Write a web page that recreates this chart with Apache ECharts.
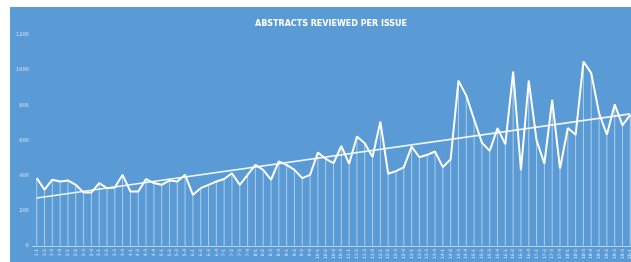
<!DOCTYPE html>
<html>
<head>
<meta charset="utf-8">
<script src="https://cdn.jsdelivr.net/npm/echarts@6/dist/echarts.min.js"></script>
<style>
html,body{margin:0;padding:0;width:631px;height:262px;overflow:hidden;background:#fff;}
#bg{position:absolute;left:10px;top:7px;width:630px;height:260px;background:#5b9bd5;}
#c{position:absolute;left:0;top:0;width:640px;height:262px;}
</style>
</head>
<body>
<div id="bg"></div>
<div id="c"></div>
<script>
var categories = ['1-1','1-2','1-3','1-4','2-1','2-2','2-3','2-4','3-1','3-2','3-3','3-4','4-1','4-2','4-3','4-4','5-1','5-2','5-3','5-4','6-1','6-2','6-3','6-4','7-1','7-2','7-3','7-4','8-1','8-2','8-3','8-4','9-1','9-2','9-3','9-4','10-1','10-2','10-3','10-4','11-1','11-2','11-3','11-4','12-1','12-2','12-3','12-4','13-1','13-2','13-3','13-4','14-1','14-2','14-3','14-4','15-1','15-2','15-3','15-4','16-1','16-2','16-3','16-4','17-1','17-2','17-3','17-4','18-1','18-2','18-3','18-4','19-1','19-2','19-3','19-4','20-1'];
var abstracts = [385,320,376,366,372,347,303,303,357,328,332,404,309,309,380,357,347,372,366,404,290,328,347,366,380,413,347,404,461,432,376,480,461,432,385,404,531,495,470,569,467,622,584,505,707,410,425,446,565,504,518,537,448,493,940,855,720,587,540,670,578,992,430,940,600,468,831,440,670,632,1049,983,755,632,805,686,745];
var trendStart = 272;
var trendEnd = 751;
var yTicks = [0,200,400,600,800,1000,1200];

var chart = echarts.init(document.getElementById('c'));
chart.setOption({
  backgroundColor: 'transparent',
  animation: false,
  title: {
    text: 'ABSTRACTS REVIEWED PER ISSUE',
    left: 326, top: 15, textAlign: 'center',
    textStyle: {color: '#ffffff', fontSize: 8, fontWeight: 'bold', fontFamily: 'DejaVu Sans'}
  },
  grid: {left: 32.8, top: 35, width: 601.4, height: 211},
  xAxis: {
    type: 'category',
    data: categories,
    boundaryGap: true,
    axisLine: {lineStyle: {color: 'rgba(255,255,255,0.55)', width: 1}},
    axisTick: {show: false},
    axisLabel: {interval: 0, rotate: 90, fontSize: 4.5, color: 'rgba(255,255,255,0.75)', margin: 3, fontFamily: 'DejaVu Sans'}
  },
  yAxis: {
    type: 'value',
    min: yTicks[0], max: yTicks[yTicks.length-1], interval: 200,
    axisLine: {show: false},
    axisTick: {show: false},
    splitLine: {show: false},
    axisLabel: {fontSize: 5, color: 'rgba(255,255,255,0.75)', margin: 4, fontFamily: 'DejaVu Sans',
      formatter: function (v) { return String(v); }}
  },
  series: [
    {
      type: 'bar',
      data: abstracts,
      barWidth: 1,
      itemStyle: {color: 'rgba(255,255,255,0.5)'},
      silent: true
    },
    {
      type: 'line',
      data: [[0, trendStart], [abstracts.length-1, trendEnd]],
      symbol: 'none',
      lineStyle: {color: 'rgba(255,255,255,0.9)', width: 1.6},
      z: 3
    },
    {
      type: 'line',
      data: abstracts,
      symbol: 'none',
      lineStyle: {color: '#ffffff', width: 2},
      z: 4
    }
  ]
});
</script>
</body>
</html>
